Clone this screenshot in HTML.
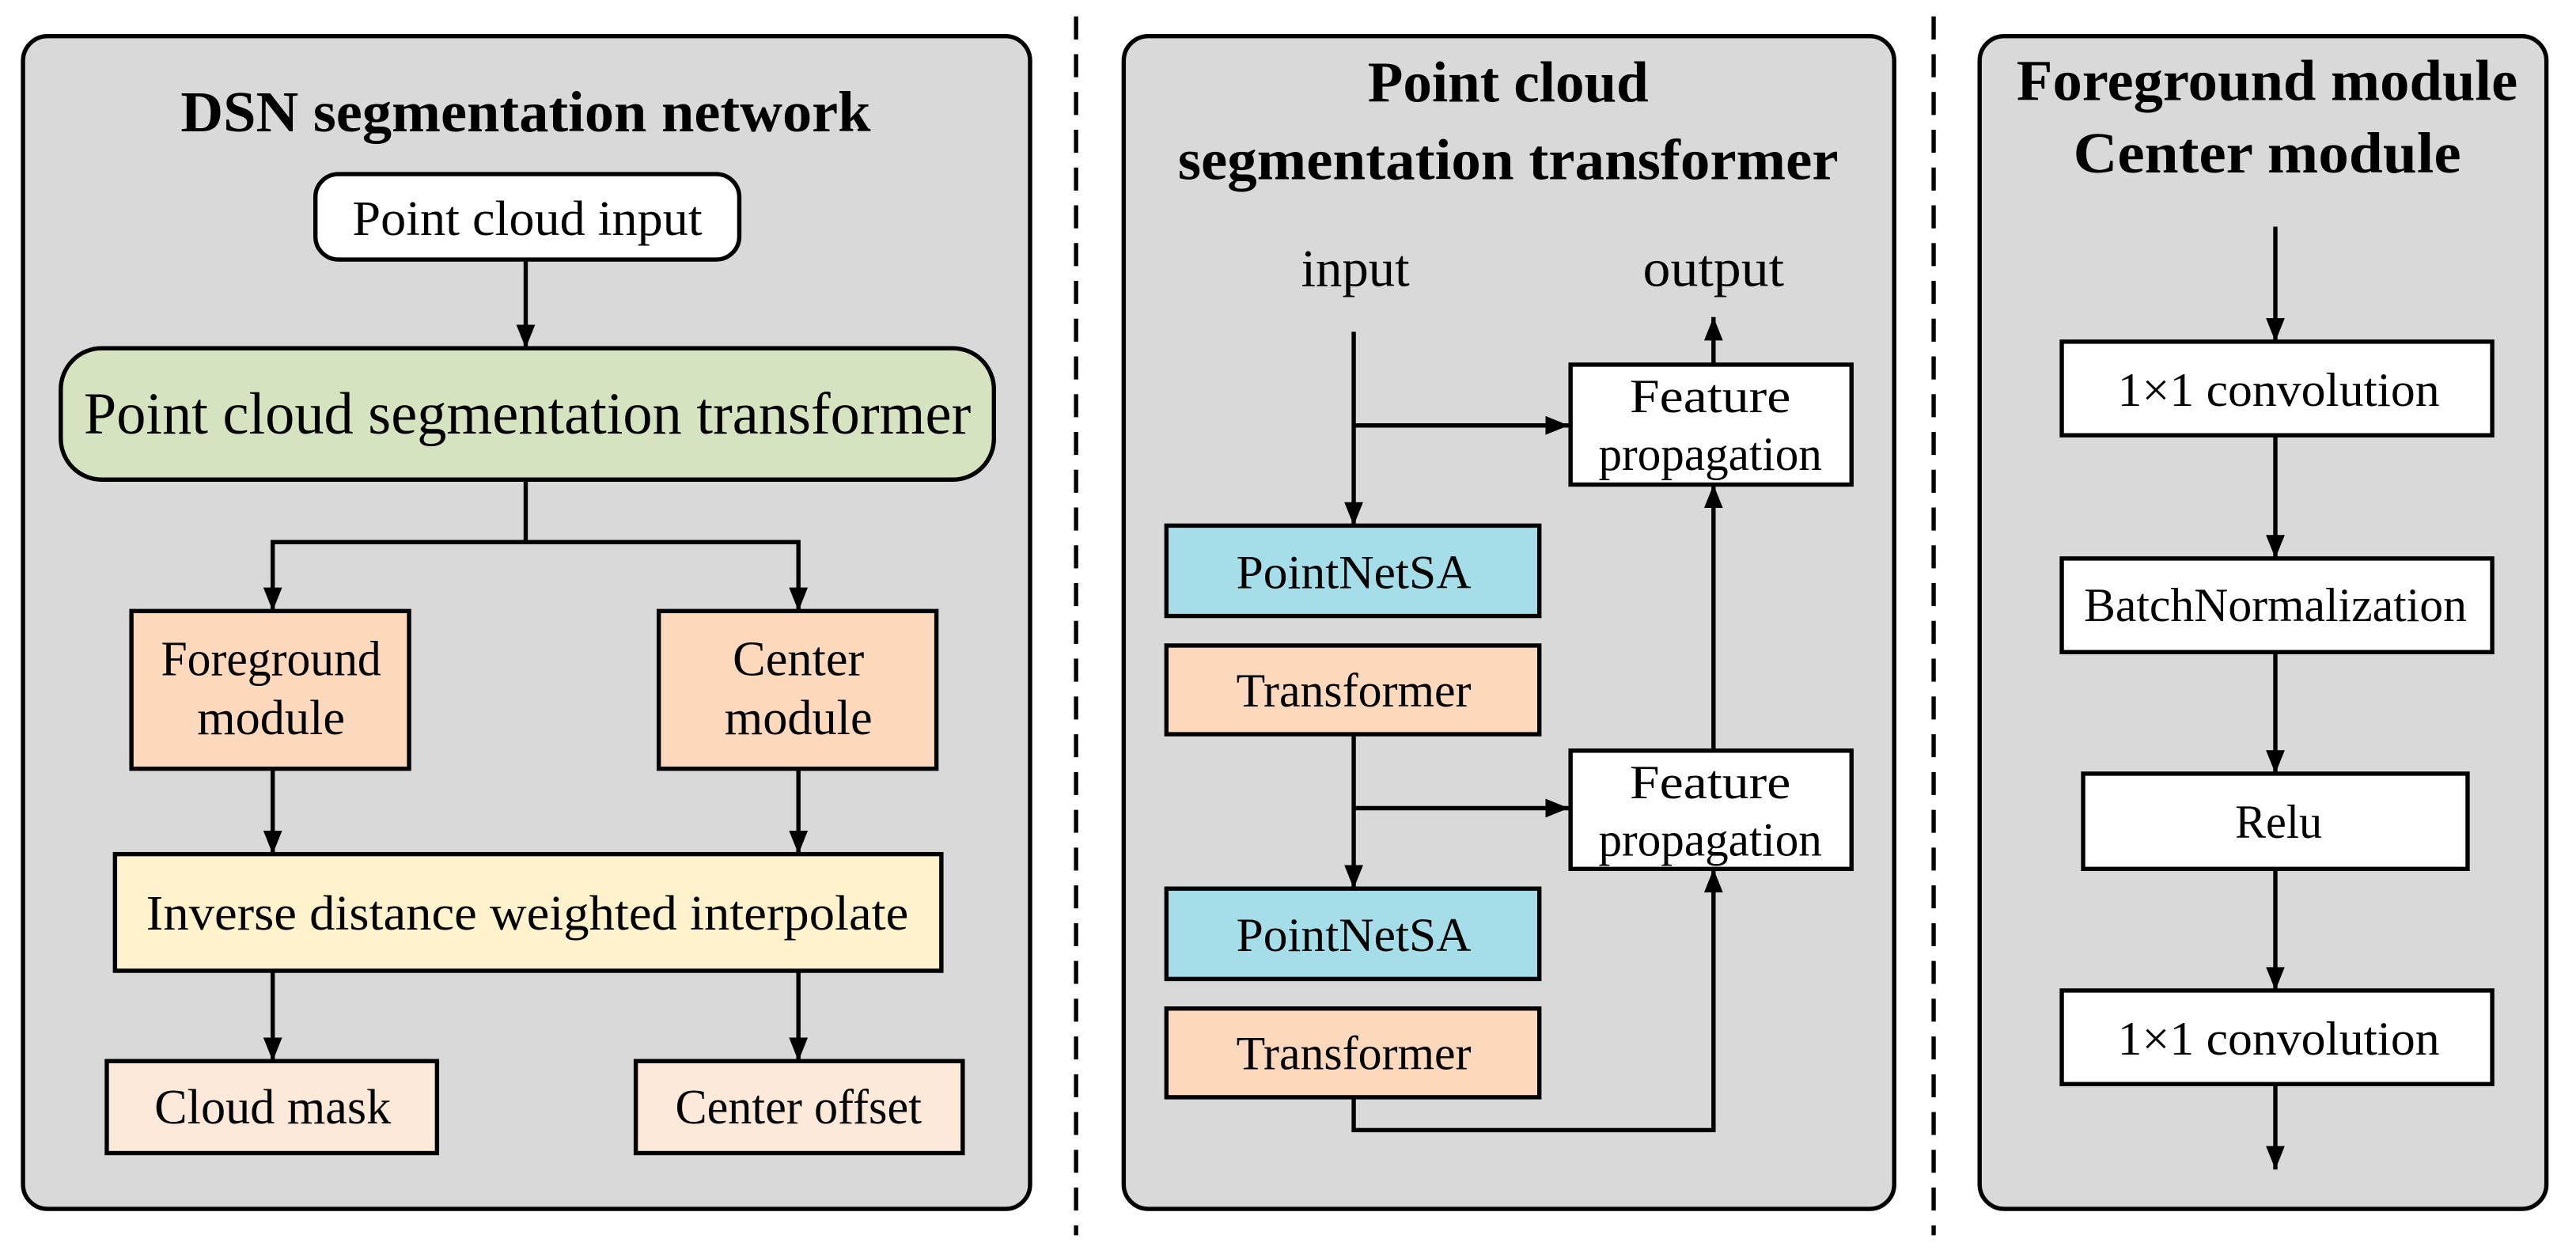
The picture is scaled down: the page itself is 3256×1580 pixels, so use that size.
<!DOCTYPE html>
<html><head><meta charset="utf-8"><style>html,body{margin:0;padding:0;background:#fff}svg{display:block}</style></head><body>
<svg width="3256" height="1580" viewBox="0 0 1568 761" preserveAspectRatio="none" xmlns="http://www.w3.org/2000/svg" font-family="Liberation Serif, serif">
<defs><marker id="a" viewBox="0 0 10 10" refX="10" refY="5" markerWidth="5.5" markerHeight="5.5" orient="auto-start-reverse" markerUnits="strokeWidth"><path d="M0,1 L10,5 L0,9 z" fill="#000"/></marker></defs>
<g stroke="#000" stroke-width="2.6">
<rect x="14" y="22" width="613" height="714" rx="15" fill="#d9d9d9"/>
<rect x="684" y="22" width="469" height="714" rx="15" fill="#d9d9d9"/>
<rect x="1205" y="22" width="345" height="714" rx="15" fill="#d9d9d9"/>
<line x1="655" y1="10" x2="655" y2="752" stroke-dasharray="14,9"/>
<line x1="1177" y1="10" x2="1177" y2="752" stroke-dasharray="14,9"/>
<rect x="192" y="106" width="258" height="52" rx="14" fill="#fff"/>
<rect x="37" y="212" width="568" height="80" rx="25" fill="#d5e3c0"/>
<rect x="80" y="372" width="169" height="96" fill="#fcd9bc"/>
<rect x="401" y="372" width="169" height="96" fill="#fcd9bc"/>
<rect x="70" y="520" width="503" height="71" fill="#fff2cc"/>
<rect x="65" y="646" width="201" height="56" fill="#fde9d9"/>
<rect x="387" y="646" width="199" height="56" fill="#fde9d9"/>
<rect x="956" y="222" width="171" height="73" fill="#fff"/>
<rect x="956" y="457" width="171" height="72" fill="#fff"/>
<rect x="710" y="320" width="227" height="55" fill="#a5dde9"/>
<rect x="710" y="393" width="227" height="54" fill="#fcd9bc"/>
<rect x="710" y="541" width="227" height="55" fill="#a5dde9"/>
<rect x="710" y="614" width="227" height="54" fill="#fcd9bc"/>
<rect x="1255" y="208" width="262" height="57" fill="#fff"/>
<rect x="1255" y="340" width="262" height="57" fill="#fff"/>
<rect x="1268" y="471" width="234" height="58" fill="#fff"/>
<rect x="1255" y="603" width="262" height="57" fill="#fff"/>
<g fill="none" marker-end="url(#a)">
<line x1="320" y1="158" x2="320" y2="212"/>
<polyline points="320,292 320,330 166,330 166,372"/>
<polyline points="320,330 486,330 486,372"/>
<line x1="166" y1="468" x2="166" y2="520"/>
<line x1="486" y1="468" x2="486" y2="520"/>
<line x1="166" y1="591" x2="166" y2="646"/>
<line x1="486" y1="591" x2="486" y2="646"/>
<line x1="824" y1="202" x2="824" y2="320"/>
<line x1="824" y1="259" x2="955" y2="259"/>
<line x1="1043" y1="222" x2="1043" y2="193"/>
<line x1="824" y1="447" x2="824" y2="541"/>
<line x1="824" y1="492" x2="955" y2="492"/>
<line x1="1043" y1="457" x2="1043" y2="295"/>
<polyline points="824,668 824,688 1043,688 1043,529"/>
<line x1="1385" y1="138" x2="1385" y2="208"/>
<line x1="1385" y1="265" x2="1385" y2="340"/>
<line x1="1385" y1="397" x2="1385" y2="471"/>
<line x1="1385" y1="529" x2="1385" y2="603"/>
<line x1="1385" y1="660" x2="1385" y2="712"/>
</g>
</g>
<g text-anchor="middle" fill="#000">
<g font-weight="bold" font-size="35">
<text x="320" y="80" textLength="420" lengthAdjust="spacingAndGlyphs">DSN segmentation network</text>
<text x="918" y="62" textLength="171" lengthAdjust="spacingAndGlyphs">Point cloud</text>
<text x="918" y="109" textLength="402" lengthAdjust="spacingAndGlyphs">segmentation transformer</text>
<text x="1380" y="61" textLength="305" lengthAdjust="spacingAndGlyphs">Foreground module</text>
<text x="1380" y="105" textLength="236" lengthAdjust="spacingAndGlyphs">Center  module</text>
</g>
<g font-size="30">
<text x="321" y="143" textLength="213" lengthAdjust="spacingAndGlyphs">Point cloud input</text>
<text x="321" y="264" font-size="36" textLength="540" lengthAdjust="spacingAndGlyphs">Point cloud segmentation transformer</text>
<text x="165" y="411" textLength="134" lengthAdjust="spacingAndGlyphs">Foreground</text><text x="165" y="447">module</text>
<text x="486" y="411">Center</text><text x="486" y="447">module</text>
<text x="321" y="566" textLength="464" lengthAdjust="spacingAndGlyphs">Inverse distance weighted interpolate</text>
<text x="166" y="684" textLength="144" lengthAdjust="spacingAndGlyphs">Cloud mask</text>
<text x="486" y="684" textLength="150" lengthAdjust="spacingAndGlyphs">Center offset</text>
<text x="825" y="174" font-size="32" textLength="66" lengthAdjust="spacingAndGlyphs">input</text>
<text x="1043" y="174" font-size="32" textLength="86" lengthAdjust="spacingAndGlyphs">output</text>
<g font-size="29">
<text x="1041" y="251" textLength="98" lengthAdjust="spacingAndGlyphs">Feature</text><text x="1041" y="286" textLength="136" lengthAdjust="spacingAndGlyphs">propagation</text>
<text x="1041" y="486" textLength="98" lengthAdjust="spacingAndGlyphs">Feature</text><text x="1041" y="521" textLength="136" lengthAdjust="spacingAndGlyphs">propagation</text>
<text x="824" y="358" textLength="143" lengthAdjust="spacingAndGlyphs">PointNetSA</text>
<text x="824" y="430" textLength="143" lengthAdjust="spacingAndGlyphs">Transformer</text>
<text x="824" y="579" textLength="143" lengthAdjust="spacingAndGlyphs">PointNetSA</text>
<text x="824" y="651" textLength="143" lengthAdjust="spacingAndGlyphs">Transformer</text>
<text x="1387" y="247" textLength="196" lengthAdjust="spacingAndGlyphs">1×1 convolution</text>
<text x="1385" y="378" textLength="233" lengthAdjust="spacingAndGlyphs">BatchNormalization</text>
<text x="1387" y="510" textLength="53" lengthAdjust="spacingAndGlyphs">Relu</text>
<text x="1387" y="642" textLength="196" lengthAdjust="spacingAndGlyphs">1×1 convolution</text>
</g>
</g>
</g>
</svg>
</body></html>
